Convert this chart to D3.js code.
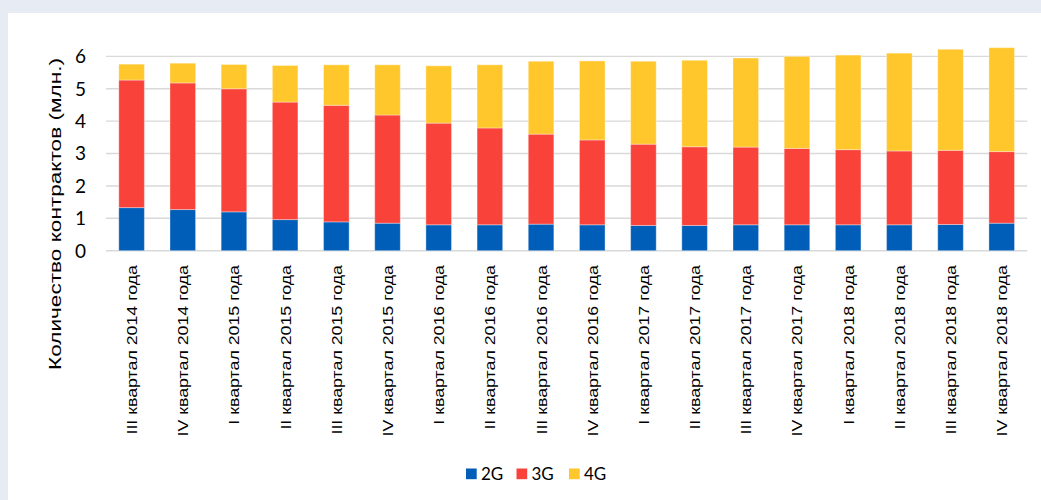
<!DOCTYPE html>
<html>
<head>
<meta charset="utf-8">
<script src="https://cdn.jsdelivr.net/npm/d3@7"></script>
<style>
  html, body { margin: 0; padding: 0; background: #e6ebf4; }
  svg { display: block; }
</style>
</head>
<body>
<svg id="chart" width="1041" height="500"></svg>
<script>
// quarters on the x axis
const quarters = [
  'III квартал 2014 года', 'IV квартал 2014 года',
  'I квартал 2015 года', 'II квартал 2015 года', 'III квартал 2015 года', 'IV квартал 2015 года',
  'I квартал 2016 года', 'II квартал 2016 года', 'III квартал 2016 года', 'IV квартал 2016 года',
  'I квартал 2017 года', 'II квартал 2017 года', 'III квартал 2017 года', 'IV квартал 2017 года',
  'I квартал 2018 года', 'II квартал 2018 года', 'III квартал 2018 года', 'IV квартал 2018 года'
];

// values in millions of contracts
const values2G = [1.33, 1.27, 1.20, 0.96, 0.89, 0.85, 0.80, 0.80, 0.82, 0.80, 0.78, 0.78, 0.80, 0.80, 0.80, 0.80, 0.81, 0.85];
const values3G = [3.94, 3.91, 3.80, 3.63, 3.60, 3.34, 3.14, 2.99, 2.78, 2.62, 2.51, 2.43, 2.40, 2.36, 2.32, 2.28, 2.29, 2.21];
const values4G = [0.49, 0.61, 0.75, 1.13, 1.25, 1.55, 1.77, 1.95, 2.25, 2.44, 2.56, 2.67, 2.75, 2.84, 2.92, 3.02, 3.12, 3.21];

const seriesNames = ['2G', '3G', '4G'];
const seriesColors = ['#005eb8', '#f9423a', '#ffc72c'];
const yTicks = [0, 1, 2, 3, 4, 5, 6];

const svg = d3.select('#chart');

// white panel
svg.append('rect')
  .attr('x', 8).attr('y', 13)
  .attr('width', 1041 - 8).attr('height', 500 - 13)
  .attr('fill', '#ffffff');

const x = d3.scaleBand()
  .domain(quarters)
  .range([106, 1027.3])
  .paddingInner(0.5)
  .paddingOuter(0.25);

const y = d3.scaleLinear()
  .domain([0, 6])
  .range([250.7, 56.4]);

// gridlines
svg.append('g')
  .selectAll('line')
  .data(yTicks)
  .join('line')
  .attr('x1', 106)
  .attr('x2', 1027.3)
  .attr('y1', d => y(d))
  .attr('y2', d => y(d))
  .attr('stroke', '#d9d9d9')
  .attr('stroke-width', 1.4);

// y tick labels
svg.append('g')
  .selectAll('text')
  .data(yTicks)
  .join('text')
  .attr('x', 86)
  .attr('y', d => y(d))
  .attr('dy', '0.36em')
  .attr('text-anchor', 'end')
  .style('font-family', 'Lato, "Open Sans", sans-serif')
  .style('font-size', '19px')
  .attr('fill', '#000')
  .text(d => d);

// stacked bars
const rows = quarters.map((q, i) => ({ q, '2G': values2G[i], '3G': values3G[i], '4G': values4G[i] }));
const stacked = d3.stack().keys(seriesNames)(rows);

svg.append('g')
  .selectAll('g')
  .data(stacked)
  .join('g')
  .attr('fill', (d, i) => seriesColors[i])
  .selectAll('rect')
  .data(d => d)
  .join('rect')
  .attr('x', d => x(d.data.q))
  .attr('width', x.bandwidth())
  .attr('y', d => y(d[1]))
  .attr('height', d => y(d[0]) - y(d[1]))
  .attr('stroke', '#ffffff')
  .attr('stroke-opacity', 0.35)
  .attr('stroke-width', 1);

// category labels, rotated (the source image is stretched along the text)
svg.append('g')
  .selectAll('text')
  .data(quarters)
  .join('text')
  .attr('transform', d => `translate(${x(d) + x.bandwidth() / 2 + 5.5},265) rotate(-90) scale(1.185,1)`)
  .attr('text-anchor', 'end')
  .style('font-family', 'Arial, "Liberation Sans", sans-serif')
  .style('font-size', '15px')
  .attr('fill', '#000')
  .text(d => d);

// y axis title
svg.append('text')
  .attr('transform', 'translate(61,214) rotate(-90) scale(1.33,1)')
  .attr('text-anchor', 'middle')
  .style('font-family', 'Arial, "Liberation Sans", sans-serif')
  .style('font-size', '17px')
  .attr('fill', '#000')
  .text('Количество контрактов (млн.)');

// legend
const legendX = [466, 516.5, 569];
const legend = svg.append('g')
  .selectAll('g')
  .data(seriesNames)
  .join('g')
  .attr('transform', (d, i) => `translate(${legendX[i]},468.5)`);

legend.append('rect')
  .attr('width', 10.7)
  .attr('height', 10.7)
  .attr('fill', (d, i) => seriesColors[i]);

legend.append('text')
  .attr('x', 15)
  .attr('y', 11.5)
  .style('font-family', 'Lato, "Open Sans", sans-serif')
  .style('font-size', '17px')
  .attr('fill', '#000')
  .text(d => d);
</script>
</body>
</html>
